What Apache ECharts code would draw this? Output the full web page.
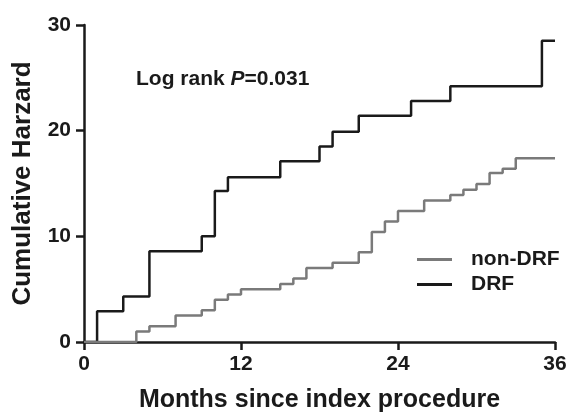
<!DOCTYPE html>
<html>
<head>
    <meta charset="utf-8">
    <title>Cumulative Harzard</title>
    <style>
        html, body { margin: 0; padding: 0; background: #fff; }
        #chart { width: 567px; height: 412px; }
    </style>
</head>
<body>
    <div id="chart"></div>
    <script src="https://cdn.jsdelivr.net/npm/echarts@6/dist/echarts.min.js"></script>
    <script>
        // step data (months, cumulative hazard %)
        var drfMonths = [0, 1, 3, 5, 9, 10, 11, 15, 18, 19, 21, 25, 28, 35, 36];
        var drfValues = [0, 2.9, 4.3, 8.6, 10, 14.3, 15.6, 17.1, 18.5, 19.9, 21.4, 22.8, 24.2, 28.5, 28.5];

        var nonMonths = [0, 4, 5, 7, 9, 10, 11, 12, 15, 16, 17, 19, 21, 22, 23, 24, 26, 28, 29, 30, 31, 32, 33, 36];
        var nonValues = [0, 1.0, 1.5, 2.5, 3.0, 4.0, 4.5, 5.0, 5.5, 6.0, 7.0, 7.5, 8.5, 10.4, 11.4, 12.4, 13.4, 13.9, 14.4, 14.95, 16.0, 16.4, 17.4, 17.4];

        var xTicks = [0, 12, 24, 36];
        var yTicks = [0, 10, 20, 30];

        var ink = '#1a1a1a';
        var grey = '#7a7a7a';
        var font = 'Liberation Sans, Arial, sans-serif';

        function pairs(xs, ys) {
            var res = [];
            for (var i = 0; i < xs.length; i++) {
                res.push([xs[i], ys[i]]);
            }
            return res;
        }

        var myChart = echarts.init(document.getElementById('chart'));

        var option = {
            animation: false,
            grid: { left: 84, right: 12, top: 25, bottom: 70, outerBoundsMode: 'none', containLabel: false },
            textStyle: { fontFamily: font },
            xAxis: {
                type: 'value',
                min: xTicks[0],
                max: xTicks[xTicks.length - 1],
                interval: 12,
                splitLine: { show: false },
                axisLine: { lineStyle: { color: ink, width: 2.5 } },
                axisTick: { length: 8, lineStyle: { color: ink, width: 2.5 } },
                axisLabel: { color: ink, fontSize: 21, fontWeight: 'bold', margin: 12, fontFamily: font },
                name: 'Months since index procedure',
                nameLocation: 'middle',
                nameGap: 46,
                nameTextStyle: { color: ink, fontSize: 25, fontWeight: 'bold', fontFamily: font }
            },
            yAxis: {
                type: 'value',
                min: yTicks[0],
                max: yTicks[yTicks.length - 1],
                interval: 10,
                splitLine: { show: false },
                axisLine: { show: true, lineStyle: { color: ink, width: 2.5 } },
                axisTick: { show: true, length: 8, lineStyle: { color: ink, width: 2.5 } },
                axisLabel: { color: ink, fontSize: 21, fontWeight: 'bold', margin: 13, fontFamily: font },
                name: 'Cumulative Harzard',
                nameLocation: 'middle',
                nameGap: 48,
                nameTextStyle: { color: ink, fontSize: 26, fontWeight: 'bold', fontFamily: font }
            },
            legend: {
                orient: 'vertical',
                left: 417,
                top: 249,
                padding: 0,
                itemWidth: 35,
                itemHeight: 3,
                itemGap: 4,
                icon: 'rect',
                textStyle: { color: ink, fontSize: 21, fontWeight: 'bold', fontFamily: font, padding: [0, 0, 0, 14] },
                data: ['non-DRF', 'DRF']
            },
            graphic: [{
                type: 'text',
                left: 136,
                top: 69,
                style: {
                    text: '{a|Log rank }{b|P}{a|=0.031}',
                    rich: {
                        a: { fontSize: 21, fontWeight: 'bold', fill: ink, fontFamily: font },
                        b: { fontSize: 21, fontWeight: 'bold', fontStyle: 'italic', fill: ink, fontFamily: font }
                    }
                }
            }],
            series: [
                {
                    name: 'non-DRF',
                    type: 'line',
                    step: 'end',
                    symbol: 'none',
                    lineStyle: { color: grey, width: 2.5 },
                    itemStyle: { color: grey },
                    z: 3,
                    data: pairs(nonMonths, nonValues)
                },
                {
                    name: 'DRF',
                    type: 'line',
                    step: 'end',
                    symbol: 'none',
                    lineStyle: { color: ink, width: 2.5 },
                    itemStyle: { color: ink },
                    z: 2,
                    data: pairs(drfMonths, drfValues)
                }
            ]
        };

        myChart.setOption(option);
    </script>
</body>
</html>
